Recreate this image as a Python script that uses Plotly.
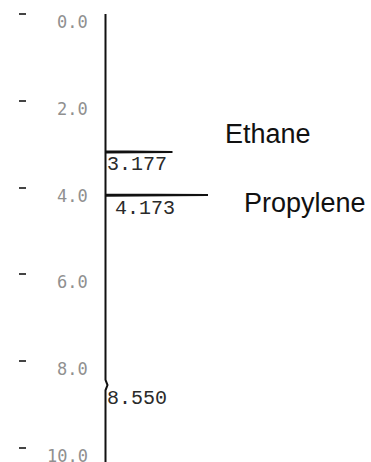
import plotly.graph_objects as go

# Peak table (retention time in min, detector response)
peak_times = [3.177, 4.173, 8.550]
peak_heights = [67.0, 102.5, 2.0]
peak_half_widths = [0.012, 0.012, 0.12]
peak_names = ["Ethane", "Propylene", None]

# Time axis ticks
tick_vals = [0, 2, 4, 6, 8, 10]
tick_text = ["0.0", "2.0", "4.0", "6.0", "8.0", "10.0"]

run_start = 0.0
run_end = 10.6

# Build the trace: flat baseline with a triangular spike at every peak
t_pts = [run_start]
s_pts = [0.0]
for t, h, w in zip(peak_times, peak_heights, peak_half_widths):
    t_pts += [t - w, t, t + w]
    s_pts += [0.0, h, 0.0]
t_pts.append(run_end)
s_pts.append(0.0)

fig = go.Figure()
fig.add_trace(go.Scatter(
    x=s_pts, y=t_pts, mode="lines",
    line=dict(color="#111111", width=2),
    hoverinfo="skip", showlegend=False,
))

# Retention time labels just below each apex (per-label horizontal nudge)
label_xshift = [-1, 7, -1]
for t, dx in zip(peak_times, label_xshift):
    fig.add_annotation(
        x=0, y=t, xref="x", yref="y",
        text=f"{t:.3f}", showarrow=False,
        xanchor="left", yanchor="middle", yshift=-13, xshift=dx,
        font=dict(family="Liberation Mono", size=20, color="#2a2a2a"),
    )

# Compound names beside the peaks
name_offsets = {"Ethane": (117, 18), "Propylene": (136, -8)}
for t, name in zip(peak_times, peak_names):
    if name is None:
        continue
    dx, dy = name_offsets[name]
    fig.add_annotation(
        x=dx, y=t, xref="x", yref="y",
        text=name, showarrow=False,
        xanchor="left", yanchor="middle", yshift=dy,
        font=dict(family="Liberation Sans", size=27, color="#111111"),
    )

# Time tick labels
for v, lab in zip(tick_vals, tick_text):
    fig.add_annotation(
        x=-16, y=v, xref="x", yref="y",
        text=lab, showarrow=False,
        xanchor="right", yanchor="middle", yshift=-8,
        font=dict(family="DejaVu Sans Mono", size=17, color="#909090"),
    )

fig.update_layout(
    width=371, height=462,
    margin=dict(l=0, r=0, t=0, b=0),
    paper_bgcolor="white", plot_bgcolor="white",
    showlegend=False,
    xaxis=dict(range=[-105.5, 265.5], visible=False, fixedrange=True),
    yaxis=dict(
        range=[(462 - 14) / 43.4, -14 / 43.4],
        anchor="free", position=18 / 371, side="left",
        showline=False, showgrid=False, zeroline=False,
        tickmode="array", tickvals=tick_vals,
        ticks="inside", ticklen=7, tickwidth=2, tickcolor="#444444",
        showticklabels=False,
    ),
)

fig.write_html("out.html")
